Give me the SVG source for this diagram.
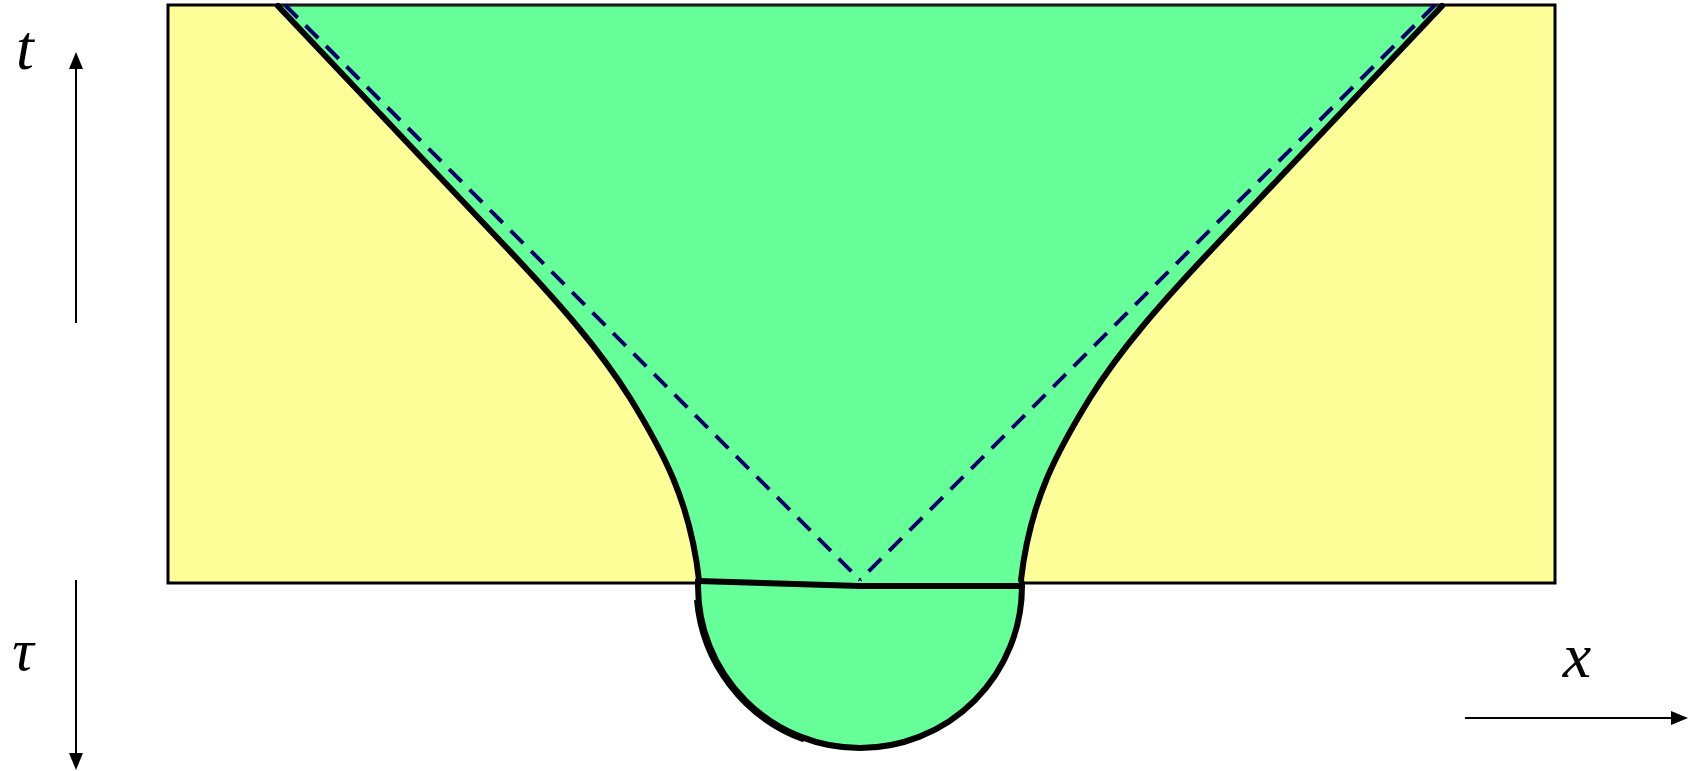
<svg xmlns="http://www.w3.org/2000/svg" width="1689" height="771" viewBox="0 0 1689 771">
<style>
.bound{fill:none;stroke:#000;stroke-width:6;stroke-linejoin:round;stroke-linecap:round}
.dash{fill:none;stroke:#000066;stroke-width:4;stroke-dasharray:18 11}
.axis{stroke:#000;stroke-width:2;fill:none}
.head{fill:#000}
.lbl{font-family:"Liberation Serif","Times New Roman",serif;font-style:italic;fill:#000;text-anchor:middle}
</style>
<rect width="1689" height="771" fill="#fff"/>
<g id="background">
<rect x="168" y="5" width="1387" height="578" fill="#FFFF99" stroke="#000" stroke-width="3"/>
</g>
<g id="region">
<path d="M278,6.5 L1442,6.5 L1215,246 C1160,304 1120,350 1090,398 C1058,450 1030,500 1021,583 L1022,586 A162,162 0 0 1 698,586 L699,583 C690,500 662,450 630,398 C600,350 560,304 505,246 Z" fill="#66FF99"/>
<line x1="278" y1="5.5" x2="1442" y2="5.5" stroke="#222" stroke-width="2"/>
</g>
<g id="connectors">
<path class="dash" d="M285,5 L860,580"/>
<path class="dash" d="M1435,5 L860,580"/>
<path class="bound" d="M278,6 L505,246 C560,304 600,350 630,398 C662,450 690,500 699,580"/>
<path class="bound" d="M1442,6 L1215,246 C1160,304 1120,350 1090,398 C1058,450 1030,500 1021,580"/>
<path class="bound" d="M698,581 L860,586 L1022,586"/>
<path class="bound" stroke-width="6.5" d="M698,581 L698,586 A162,162 0 0 0 1022,586 L1022,583"/>
<path fill="none" stroke="#000" stroke-width="5" d="M696.5,600 A164,164 0 0 0 804,740"/>
</g>
<g id="axis-t">
<line class="axis" x1="76" y1="323" x2="76" y2="66"/>
<polygon class="head" points="76,52 69,69 83,69"/>
<text class="lbl" x="25" y="69" font-size="64">t</text>
</g>
<g id="axis-tau">
<line class="axis" x1="76" y1="580" x2="76" y2="757"/>
<polygon class="head" points="76,770 69,753 83,753"/>
<text class="lbl" x="23" y="670" font-size="60">τ</text>
</g>
<g id="axis-x">
<line class="axis" x1="1465" y1="718" x2="1674" y2="718"/>
<polygon class="head" points="1688,718 1671,711 1671,725"/>
<text class="lbl" x="1577" y="677" font-size="64">x</text>
</g>
</svg>
